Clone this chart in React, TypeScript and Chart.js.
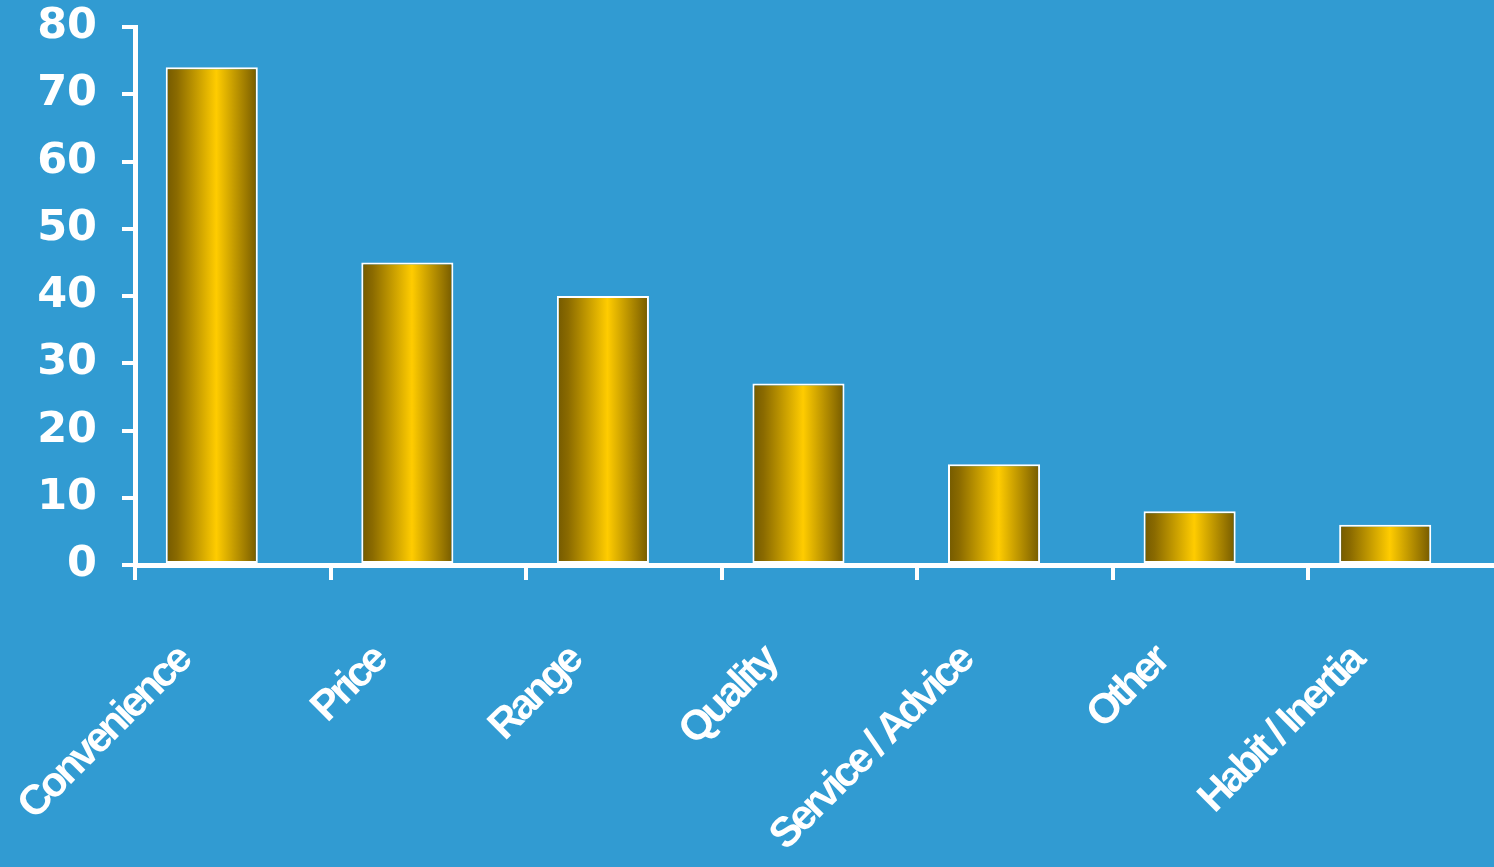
import React, { useEffect, useRef } from 'react';
import { Chart, registerables } from 'chart.js';

Chart.register(...registerables);

const categories = ['Convenience', 'Price', 'Range', 'Quality', 'Service / Advice', 'Other', 'Habit / Inertia'];
const shareValues = [74, 45, 40, 27, 15, 8, 6];
// empty companion series (the original layout reserves a second slot per category)
const spacerValues = [null, null, null, null, null, null, null];
const yTickValues = [0, 10, 20, 30, 40, 50, 60, 70, 80];

const BG = '#319bd2';
const WHITE = '#ffffff';

const goldGradientPlugin = {
  id: 'goldGradient',
  beforeDraw(chart: any) {
    // tight letter spacing for the category labels (drawn before the datasets)
    chart.ctx.letterSpacing = '-3.5px';
  },
  beforeDatasetsDraw(chart: any) {
    const ctx = chart.ctx;
    ctx.letterSpacing = '0px';
    const meta = chart.getDatasetMeta(0);
    meta.data.forEach((el: any) => {
      const x0 = el.x - el.width / 2;
      const x1 = el.x + el.width / 2;
      if (!Number.isFinite(x0) || !Number.isFinite(x1)) return;
      const g = ctx.createLinearGradient(x0, 0, x1, 0);
      g.addColorStop(0, '#735900');
      g.addColorStop(0.12, '#8a6a00');
      g.addColorStop(0.55, '#ffcc00');
      g.addColorStop(0.88, '#9a7800');
      g.addColorStop(1, '#735900');
      el.options = Object.assign({}, el.options, { backgroundColor: g });
    });
  },
};

export default function App() {
  const canvasRef = useRef<HTMLCanvasElement | null>(null);

  useEffect(() => {
    if (!canvasRef.current) return;
    const chart = new Chart(canvasRef.current, {
      type: 'bar',
      data: {
        labels: categories,
        datasets: [
          {
            label: 'Share',
            data: shareValues,
            backgroundColor: '#ffcc00',
            borderColor: WHITE,
            borderWidth: 2,
            borderSkipped: false,
            barPercentage: 2.19,
            categoryPercentage: 0.43,
          },
          {
            label: '',
            data: spacerValues,
            backgroundColor: 'rgba(0,0,0,0)',
            barPercentage: 2.19,
            categoryPercentage: 0.43,
          },
        ],
      },
      plugins: [goldGradientPlugin],
      options: {
        animation: false,
        responsive: true,
        maintainAspectRatio: false,
        layout: { padding: { top: 27, right: 0, bottom: 0, left: 0 } },
        plugins: {
          legend: { display: false },
          tooltip: { enabled: false },
        },
        scales: {
          x: {
            type: 'category',
            offset: true,
            border: { display: true, color: WHITE, width: 5 },
            grid: {
              display: true,
              offset: true,
              drawOnChartArea: false,
              drawTicks: true,
              tickLength: 15,
              color: WHITE,
              lineWidth: 4,
            },
            ticks: {
              autoSkip: false,
              minRotation: 45,
              maxRotation: 45,
              padding: 57,
              labelOffset: -49,
              color: WHITE,
              font: { family: "'Liberation Sans', Arial, sans-serif", weight: 'bold', size: 42 },
            },
            afterFit: (scale: any) => {
              scale.height = 302;
              scale.paddingLeft = 0;
              scale.paddingRight = 0;
            },
          },
          y: {
            min: yTickValues[0],
            max: yTickValues[yTickValues.length - 1],
            border: { display: true, color: WHITE, width: 5 },
            grid: {
              display: true,
              drawOnChartArea: false,
              drawTicks: true,
              tickLength: 13,
              color: WHITE,
              lineWidth: 4,
            },
            ticks: {
              z: 1,
              stepSize: yTickValues[1] - yTickValues[0],
              padding: 25,
              color: WHITE,
              font: { family: "'DejaVu Sans', Verdana, sans-serif", weight: 'bold', size: 43 },
            },
            afterFit: (scale: any) => {
              scale.width = 135;
              scale.paddingTop = 0;
              scale.paddingBottom = 0;
            },
          },
        },
      },
    });
    return () => chart.destroy();
  }, []);

  return (
    <div
      style={{
        position: 'fixed',
        left: 0,
        top: 0,
        width: 1494,
        height: 867,
        overflow: 'hidden',
        background: BG,
      }}
    >
      <div style={{ position: 'relative', width: 1504, height: 867 }}>
        <canvas ref={canvasRef} />
      </div>
    </div>
  );
}
